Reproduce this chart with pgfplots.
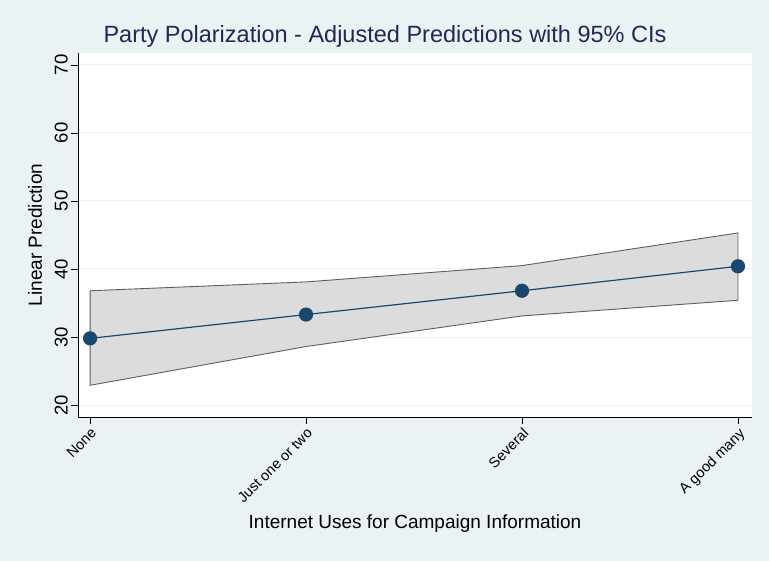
\documentclass[border=0pt]{standalone}
\usepackage{pgfplots}
\pgfplotsset{compat=1.18}
\usepackage{fontspec}
\setmainfont{Liberation Sans}

\definecolor{bgblue}{HTML}{EAF2F3}
\definecolor{titlenavy}{HTML}{1E2A55}
\definecolor{linenavy}{HTML}{1A476F}
\definecolor{bandfill}{HTML}{DCDCDC}
\definecolor{bandedge}{HTML}{5E5E5E}

% predictions and 95% confidence bounds per category
\pgfplotstableread{
x  pred  lo    hi
0  29.8  22.9  36.8
1  33.3  28.6  38.1
2  36.8  33.1  40.5
3  40.4  35.4  45.3
}\preds

% closed outline of the confidence band (upper bounds, then lower bounds back)
\pgfplotstableread{
x  y
0  36.8
1  38.1
2  40.5
3  45.3
3  35.4
2  33.1
1  28.6
0  22.9
}\band

\begin{document}
\begin{tikzpicture}[x=1pt,y=1pt]
\fill[bgblue] (0,0) rectangle (769,561);
\node[text=titlenavy, font=\fontsize{23.5}{26}\selectfont] at (385,525)
  {Party Polarization - Adjusted Predictions with 95\% CIs};
\begin{axis}[
  at={(78pt,144pt)}, anchor=south west,
  scale only axis, width=674pt, height=364pt,
  xmin=-0.056, xmax=3.065,
  ymin=18.24, ymax=71.76,
  axis background/.style={fill=white},
  separate axis lines,
  axis x line*=bottom, axis y line*=left,
  axis line style={black, line width=0.8pt},
  xtick={0,1,2,3},
  xticklabels={None, Just one or two, Several, A good many},
  ytick={20,30,40,50,60,70},
  tick align=outside,
  major tick length=7pt,
  tick style={black, line width=0.7pt},
  ymajorgrids,
  major grid style={bgblue, line width=1pt},
  x tick label style={rotate=45, anchor=north east, inner sep=2pt,
    font=\fontsize{14.5}{16}\selectfont},
  y tick label style={rotate=90, anchor=south, inner sep=3pt,
    font=\fontsize{18.5}{20}\selectfont},
  /pgf/number format/assume math mode=true,
  xlabel={Internet Uses for Campaign Information},
  ylabel={Linear Prediction},
  xlabel style={font=\fontsize{19}{21}\selectfont,
    at={([yshift=-107pt]axis description cs:0.5,0)}, anchor=center},
  ylabel style={font=\fontsize{19}{21}\selectfont,
    at={([xshift=-43pt]axis description cs:0,0.5)}, anchor=center},
  clip=false,
]
\addplot[fill=bandfill, draw=bandedge, line width=0.9pt] table[x=x,y=y] {\band} -- cycle;
\addplot[linenavy, line width=1.2pt, mark=*, mark size=6.5pt,
  mark options={fill=linenavy, draw=linenavy}] table[x=x,y=pred] {\preds};
\end{axis}
\end{tikzpicture}
\end{document}
